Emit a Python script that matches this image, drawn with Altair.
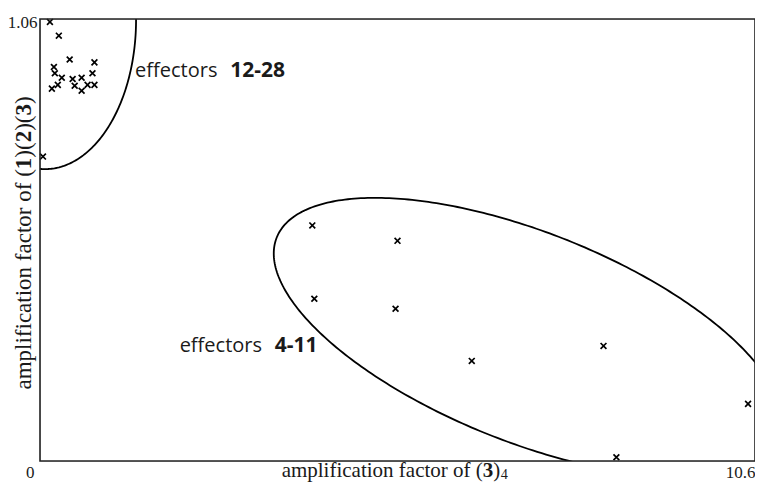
import altair as alt
import numpy as np
import pandas as pd

# ---- data ----
# effectors 12-28 (upper-left cluster)
a_x = [0.147, 0.279, 0.440, 0.807, 0.206, 0.220, 0.323, 0.484, 0.617,
       0.778, 0.176, 0.264, 0.514, 0.617, 0.705, 0.807, 0.044]
a_y = [1.053, 1.020, 0.963, 0.956, 0.945, 0.930, 0.919, 0.916, 0.919,
       0.930, 0.893, 0.902, 0.900, 0.888, 0.902, 0.902, 0.730]
# effectors 4-11
b_x = [4.037, 5.300, 4.067, 5.271, 6.401, 8.354, 10.497, 8.545]
b_y = [0.565, 0.528, 0.389, 0.365, 0.240, 0.276, 0.137, 0.009]

x_ticks = [0, 10.6]
y_ticks = [1.06]
X_MAX = 10.6
Y_MAX = 1.06

# ellipses: centre and two conjugate semi-axis vectors (data units)
ell_a = dict(cx=0.073, cy=1.058, ux=1.351, uy=0.0, vx=0.0, vy=0.358)
ell_b = dict(cx=7.2346, cy=0.2965, ux=-3.7236, uy=0.2401, vx=-0.5836, vy=-0.2330)

# whole chart must stay within 747 x 475 (page margins)
W, H = 715, 442
PAD = {"left": 32, "top": 11, "right": 0, "bottom": 22}
SERIF = "Liberation Serif"
SANS = "Open Sans"
INK = "#1a1a1a"
BASE_Y = H + 16          # baseline of the x labels / title (plot coords)

pts = pd.DataFrame({"x": a_x + b_x, "y": a_y + b_y})

tt = np.linspace(0, 2 * np.pi, 361)
rows = []
for name, e in (("a", ell_a), ("b", ell_b)):
    for i, t in enumerate(tt):
        rows.append({"g": name, "i": i,
                     "x": e["cx"] + e["ux"] * np.cos(t) + e["vx"] * np.sin(t),
                     "y": e["cy"] + e["uy"] * np.cos(t) + e["vy"] * np.sin(t)})
ell = pd.DataFrame(rows)

x_enc = alt.X("x:Q", scale=alt.Scale(domain=[0, X_MAX], nice=False, zero=False),
              axis=alt.Axis(values=x_ticks, format=".3~g", title=None, domain=False,
                            ticks=False, grid=False, labelFont=SERIF, labelFontSize=17,
                            labelColor=INK, labelAlign="right", labelFlush=False,
                            labelBaseline="alphabetic", labelPadding=BASE_Y - H,
                            labelOffset={"condition": {"test": "datum.value == 0", "value": -6}, "value": 0}))
y_enc = alt.Y("y:Q", scale=alt.Scale(domain=[0, Y_MAX], nice=False, zero=False),
              axis=alt.Axis(values=y_ticks, format=".3~g", title=None, domain=False,
                            ticks=False, grid=False, labelFont=SERIF, labelFontSize=17,
                            labelColor=INK, labelAlign="right", labelFlush=False,
                            labelBaseline="middle", labelPadding=3, labelOffset=3))

one = pd.DataFrame({"k": [0]})

frame = alt.Chart(one).mark_rect(fillOpacity=0, stroke="#222", strokeWidth=1.6).encode(
    x=alt.value(0), x2=alt.value(W), y=alt.value(0), y2=alt.value(H))

lines = alt.Chart(ell).mark_line(color="black", strokeWidth=1.8, clip=True).encode(
    x=x_enc, y=y_enc, detail="g:N", order="i:Q")

marker = "M-1,-1L1,1M-1,1L1,-1"
points = alt.Chart(pts).mark_point(shape=marker, filled=False, color="black",
                                    strokeWidth=1.7, size=34, opacity=1).encode(x=x_enc, y=y_enc)


def txt(text, px, py, font, size, weight="normal", angle=0, align="left"):
    return alt.Chart(one).mark_text(text=text, font=font, fontSize=size,
                                    fontWeight=weight, angle=angle, align=align,
                                    baseline="alphabetic", color=INK).encode(
        x=alt.value(px), y=alt.value(py))


def vx(ref_px):
    """horizontal position measured in the reference -> plot coordinates"""
    return (ref_px - 40) * W / 722.0


def vy(ref_py):
    """vertical position measured in the reference -> plot coordinates"""
    return (ref_py - 19) * H / 450.0


# Times metrics (em) for layout of mixed-style titles
TW = {"a": .444, "m": .778, "p": .5, "l": .278, "i": .278, "f": .333, "c": .444,
      "t": .278, "o": .5, "n": .5, " ": .25, "r": .333, "(": .333, ")": .333}
for d in "0123456789":
    TW[d] = .5


def tw(s, size):
    return sum(TW.get(ch, .5) for ch in s) * size


layers = [lines, points, frame]

# x title: amplification factor of (3)4
FSX = 21
x0, yb = vx(284), BASE_Y
base = "amplification factor of ("
layers.append(txt(base, x0, yb, SERIF, FSX))
cx = x0 + tw(base, FSX)
layers.append(txt("3", cx, yb, SERIF, FSX, "bold"))
cx += tw("3", FSX)
layers.append(txt(")", cx, yb, SERIF, FSX))
cx += tw(")", FSX)
layers.append(txt("4", cx + 0.5, yb + 1.5, SERIF, FSX * 0.68))

# y title: amplification factor of (1)(2)(3), rotated
FSY = 23
pieces = [(base, "normal"), ("1", "bold"), (")(", "normal"), ("2", "bold"),
          (")(", "normal"), ("3", "bold"), (")", "normal")]
total = sum(tw(s, FSY) for s, _ in pieces)
cy = vy(247) + total / 2
for s, w in pieces:
    layers.append(txt(s, -9, cy, SERIF, FSY, w, angle=270))
    cy -= tw(s, FSY)

# annotations
layers.append(txt("effectors", vx(136), vy(78), SANS, 20))
layers.append(txt("12-28", vx(232), vy(78), SANS, 21, "bold"))
layers.append(txt("effectors", vx(181), vy(358), SANS, 20))
layers.append(txt("4-11", vx(277), vy(358), SANS, 21, "bold"))

chart = alt.layer(*layers).properties(
    width=W, height=H,
    autosize=alt.AutoSizeParams(type="none"),
    padding=PAD,
)

chart.save("out.html", embed_options={"renderer": "svg", "actions": False})
